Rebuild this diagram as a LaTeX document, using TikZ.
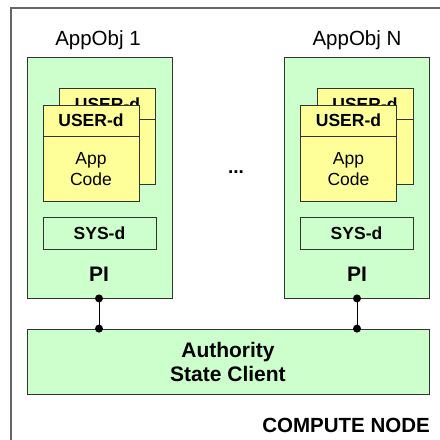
\documentclass[tikz,border=0pt]{standalone}
\usepackage{fontspec}
\setmainfont{Liberation Sans}
\usetikzlibrary{calc}
\definecolor{appgreen}{HTML}{CCFFCC}
\definecolor{codeyellow}{HTML}{FFFF99}
\definecolor{framegray}{HTML}{666666}
\begin{document}
\begin{tikzpicture}[x=1pt, y=-1pt, every node/.style={align=center, inner sep=0pt},
	greenbox/.style={draw=black!80, line width=0.8pt, fill=appgreen},
	card/.style={draw=black!80, line width=0.8pt, fill=codeyellow, minimum width=96pt, minimum height=96pt},
	cardhead/.style={draw=black!80, line width=0.8pt, fill=codeyellow, minimum width=96pt, minimum height=31pt, font=\fontsize{17.5}{20}\selectfont\bfseries},
	codetext/.style={font=\fontsize{17.5}{21}\selectfont},
	appname/.style={font=\fontsize{20.5}{24}\selectfont},
	bigbold/.style={font=\fontsize{21}{24}\selectfont\bfseries},
	link/.style={draw=black, line width=1pt}]
	\useasboundingbox (0,0) rectangle (440,440);
	\clip (0,0) rectangle (440,440);
	\draw[framegray, line width=1.5pt] (11,8) rectangle (470,470);
	\node[appname] (name1) at (98,40) {AppObj 1};
	\node[appname] (nameN) at (357,40) {AppObj N};
	\node[greenbox, minimum width=145pt, minimum height=241pt] (app1) at (99.5,177.5) {};
	\node[greenbox, minimum width=145pt, minimum height=241pt] (appN) at (356.5,177.5) {};
	\node[card] (back1) at (107.5,136.5) {};
	\node[cardhead, anchor=north] (backhead1) at (back1.north) {USER-d};
	\node[card] (front1) at (91,153) {};
	\node[cardhead, anchor=north] (fronthead1) at (front1.north) {USER-d};
	\node[codetext] (code1) at ($(fronthead1.south)!0.5!(front1.south)$) {App\\Code};
	\node[card] (backN) at (365,136.5) {};
	\node[cardhead, anchor=north] (backheadN) at (backN.north) {USER-d};
	\node[card] (frontN) at (348.5,153) {};
	\node[cardhead, anchor=north] (fronthead N) at (frontN.north) {USER-d};
	\node[codetext] (codeN) at ($(fronthead N.south)!0.5!(frontN.south)$) {App\\Code};
	\node[greenbox, minimum width=113pt, minimum height=32pt, font=\fontsize{17.5}{20}\selectfont\bfseries] (sys1) at (99.5,233) {SYS-d};
	\node[greenbox, minimum width=113pt, minimum height=32pt, font=\fontsize{17.5}{20}\selectfont\bfseries] (sysN) at (356.5,233) {SYS-d};
	\node[bigbold] (pi1) at (99,274) {PI};
	\node[bigbold] (piN) at (357,274) {PI};
	\node[font=\fontsize{19}{20}\selectfont\bfseries] (dots) at (236,172) {...};
	\node[greenbox, bigbold, minimum width=402pt, minimum height=65pt] (auth) at (228,361.5) {Authority\\State Client};
	\node[bigbold, font=\fontsize{20.5}{24}\selectfont\bfseries, anchor=east] (compute) at (430,425) {COMPUTE NODE};
	\draw[link] (pi1 |- app1.south) -- (pi1 |- auth.north);
	\draw[link] (piN |- appN.south) -- (piN |- auth.north);
	\fill (pi1 |- app1.south) circle[radius=4pt] (pi1 |- auth.north) circle[radius=4pt];
	\fill (piN |- appN.south) circle[radius=4pt] (piN |- auth.north) circle[radius=4pt];
\end{tikzpicture}
\end{document}
